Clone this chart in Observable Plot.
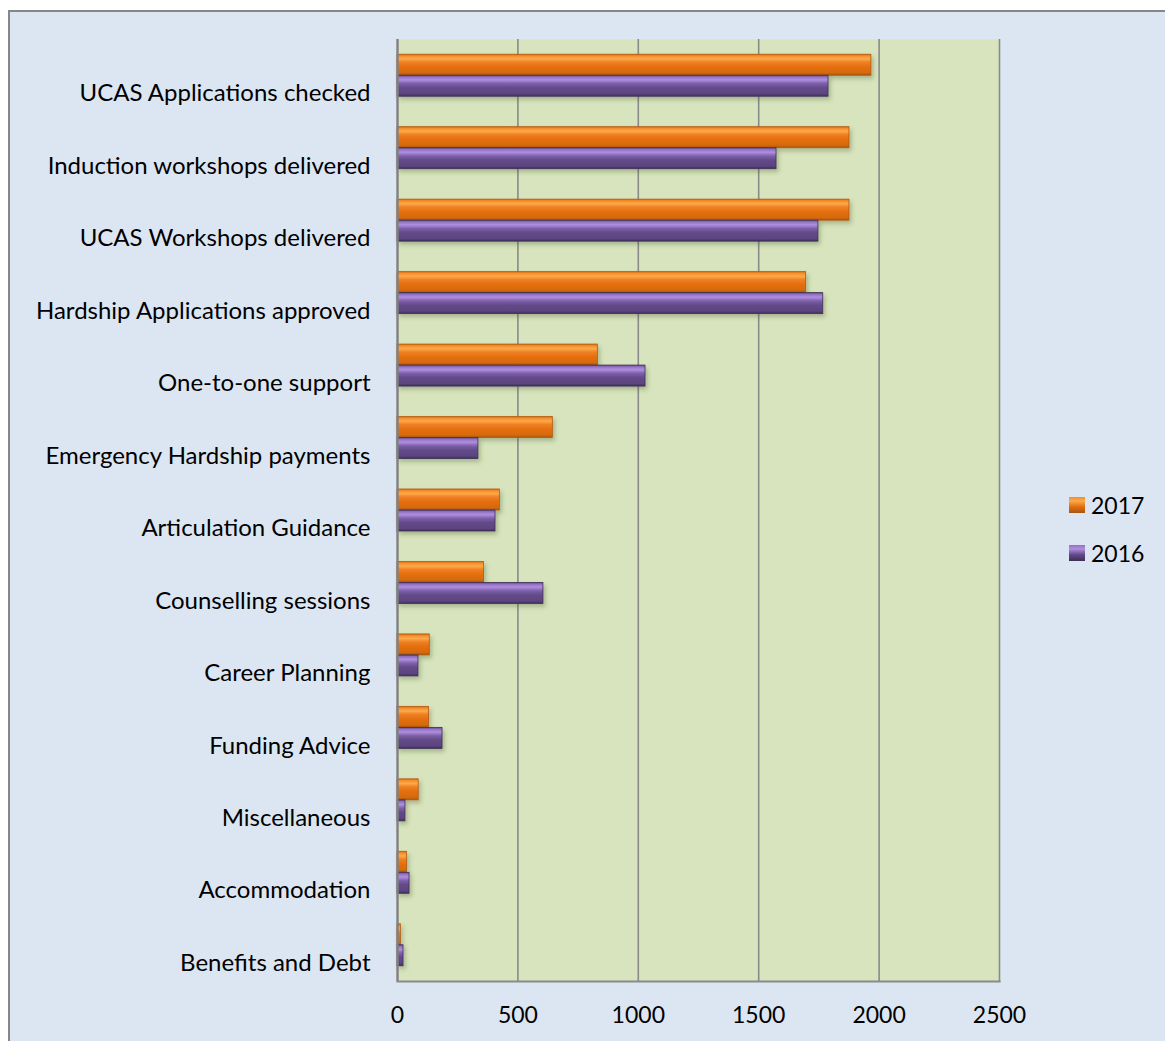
<!DOCTYPE html>
<html><head><meta charset="utf-8">
<script src="https://cdn.jsdelivr.net/npm/d3@7"></script>
<script src="https://cdn.jsdelivr.net/npm/@observablehq/plot@0.6"></script>
<style>
body{margin:0;background:#fff;}
#wrap{position:relative;width:1165px;height:1041px;overflow:hidden;}
#bg{position:absolute;left:8px;top:10px;width:1170px;height:1040px;background:#dce6f2;border-top:2px solid #878787;border-left:2px solid #878787;box-sizing:border-box;}
#chart{position:absolute;left:0;top:0;}
.leg{position:absolute;left:1069px;font-family:Lato,sans-serif;font-size:23px;color:#000;display:flex;align-items:center;height:24px;}
.sw{width:16px;height:16px;margin-right:6px;box-sizing:border-box;}
</style></head>
<body>
<div id="wrap"><div id="bg"></div><div id="chart"></div><div id="legend"></div></div>
<script>
const categories = ["UCAS Applications checked","Induction workshops delivered","UCAS Workshops delivered","Hardship Applications approved","One-to-one support","Emergency Hardship payments","Articulation Guidance","Counselling sessions","Career Planning","Funding Advice","Miscellaneous","Accommodation","Benefits and Debt"];
const v2017 = [1968, 1877, 1877, 1697, 832, 645, 425, 359, 134, 131, 88, 40, 14];
const v2016 = [1790, 1574, 1748, 1768, 1030, 336, 407, 606, 87, 187, 33, 50, 25];
const seriesNames = ["2017","2016"];
const xTicks = [0, 500, 1000, 1500, 2000, 2500];

const W = 1165, H = 1041, mt = 39, mb = 60, ml = 397, mr = 166;
const band = (H - mt - mb) / categories.length;
const barH = 21;
const d17 = categories.map((c, i) => ({category: c, value: v2017[i]}));
const d16 = categories.map((c, i) => ({category: c, value: v2016[i]}));

const svg = Plot.plot({
  width: W, height: H,
  marginTop: mt, marginBottom: mb, marginLeft: ml, marginRight: mr,
  style: {background: "transparent", fontFamily: "Lato, sans-serif", fontSize: "22px", color: "#000", overflow: "visible"},
  x: {domain: [0, 2500], axis: null},
  y: {domain: categories, padding: 0, round: false, axis: null},
  marks: [
    Plot.frame({fill: "#d7e4bd", stroke: null}),
    Plot.ruleX(xTicks.slice(1), {stroke: "#8a8a8a", strokeWidth: 1.6}),
    Plot.barX(d17, {x: "value", y: "category", fill: "url(#gOrange)", stroke: "#b45a10", strokeWidth: 0.8, insetTop: band / 2 - barH, insetBottom: band / 2}),
    Plot.barX(d16, {x: "value", y: "category", fill: "url(#gPurple)", stroke: "#3f3057", strokeWidth: 0.8, insetTop: band / 2, insetBottom: band / 2 - barH}),
    Plot.ruleX([0], {stroke: "#808080", strokeWidth: 2.4}),
    Plot.frame({anchor: "bottom", stroke: "#8a8a8a", strokeWidth: 2.2}),
    Plot.axisX(xTicks, {tickSize: 0, tickPadding: 25, fontSize: 23, label: null, tickFormat: d => String(d)}),
    Plot.axisY({tickSize: 0, tickPadding: 27, dy: 18, fontSize: 24, label: null})
  ]
});
document.getElementById("chart").appendChild(svg);

const defs = d3.select(svg).insert("defs", ":first-child");
function grad(id, stops) {
  const g = defs.append("linearGradient").attr("id", id).attr("x1", 0).attr("y1", 0).attr("x2", 0).attr("y2", 1);
  stops.forEach(([o, c]) => g.append("stop").attr("offset", o).attr("stop-color", c));
}
grad("gOrange", [[0, "#d9680e"], [0.08, "#f58d2c"], [0.22, "#fbaa4a"], [0.38, "#f08024"], [0.6, "#e46f10"], [0.88, "#d66a0c"], [1, "#a8550e"]]);
grad("gPurple", [[0, "#5e4680"], [0.08, "#9270c2"], [0.22, "#b08ee0"], [0.4, "#7c5fa8"], [0.6, "#634a88"], [0.88, "#5b4480"], [1, "#3e2f55"]]);
const f = defs.append("filter").attr("id", "shadow").attr("x", "-10%").attr("y", "-30%").attr("width", "130%").attr("height", "180%");
f.append("feDropShadow").attr("dx", 2).attr("dy", 3).attr("stdDeviation", 2).attr("flood-color", "#3a4a20").attr("flood-opacity", 0.3);
d3.select(svg).selectAll('g[aria-label="bar"]').attr("filter", "url(#shadow)");

const legendColors = {"2017": "linear-gradient(#f58d2c,#fbaa4a 25%,#e46f10 60%,#a8550e)", "2016": "linear-gradient(#9270c2,#b08ee0 25%,#634a88 60%,#3e2f55)"};
const legendTops = [493, 541];
const leg = document.getElementById("legend");
seriesNames.forEach((s, i) => {
  const row = document.createElement("div");
  row.className = "leg";
  row.style.top = legendTops[i] + "px";
  row.innerHTML = `<div class="sw" style="background:${legendColors[s]}"></div><span>${s}</span>`;
  leg.appendChild(row);
});
</script>
</body></html>
